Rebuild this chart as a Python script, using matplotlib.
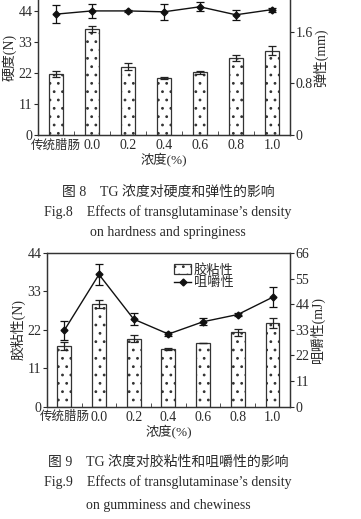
import numpy as np
import matplotlib
matplotlib.use("Agg")
import matplotlib.pyplot as plt
from matplotlib.patches import Patch
from matplotlib.lines import Line2D

plt.rcParams['font.family'] = ['Liberation Serif', 'Noto Sans CJK SC']
plt.rcParams['hatch.color'] = '#9a9a9a'
plt.rcParams['hatch.linewidth'] = 0.8

# 数据
categories = ['传统腊肠', '0.0', '0.2', '0.4', '0.6', '0.8', '1.0']

hardness = [21.6, 37.6, 24.2, 20.1, 22.2, 27.3, 29.9]
hardness_err = [1.0, 1.0, 1.2, 0.3, 0.6, 1.2, 1.5]
springiness = [1.87, 1.92, 1.92, 1.906, 1.984, 1.86, 1.94]
springiness_err = [0.143, 0.11, 0.01, 0.12, 0.067, 0.075, 0.03]

gumminess = [17.4, 29.5, 19.5, 16.5, 18.2, 21.3, 24.0]
gumminess_err = [1.2, 1.1, 1.1, 0.3, 0.1, 1.0, 1.4]
chewiness = [32.8, 56.8, 37.6, 31.2, 36.5, 39.6, 47.0]
chewiness_err = [4.0, 4.6, 2.6, 1.0, 1.5, 0.5, 4.3]

TXT = '#2a2a2a'


def draw_panel(fig, rect, bars, bars_err, line, line_err, yl, ylmax, yr, yrmax, ylab, yrlab):
    x = np.arange(len(categories))
    ax = fig.add_axes(rect)
    ax.bar(x, bars, width=0.4, color='white', edgecolor='#333333',
           linewidth=0.9, hatch='..', zorder=2)
    ax.errorbar(x, bars, yerr=bars_err, fmt='none', ecolor='#222222',
                elinewidth=0.9, capsize=3, capthick=0.9, zorder=3)
    ax.set_xlim(-0.5, len(categories) - 0.5)
    ax.set_ylim(0, ylmax)
    ax.set_yticks(yl)
    ax.set_xticks(x)
    ax.set_xticklabels(categories)
    ax.set_xticks(x[:-1] + 0.5, minor=True)
    ax.tick_params(axis='x', which='major', length=0, pad=3, labelsize=10, colors=TXT)
    ax.get_xticklabels()[0].set_fontsize(9)
    ax.tick_params(axis='x', which='minor', direction='in', length=3, color='#333333')
    ax.tick_params(axis='y', direction='out', length=3, labelsize=10, colors=TXT, pad=1)
    ax.set_ylabel(ylab, fontsize=10, color=TXT, labelpad=1)
    ax.set_xlabel('浓度(%)', fontsize=9.5, color=TXT, labelpad=1)
    for s in ax.spines.values():
        s.set_color('#333333')
        s.set_linewidth(0.9)

    ax2 = ax.twinx()
    ax2.errorbar(x, line, yerr=line_err, color='#111111', marker='D',
                 markersize=3.5, linewidth=1.0, elinewidth=0.9, capsize=3,
                 capthick=0.9, zorder=4)
    ax2.set_ylim(0, yrmax)
    ax2.set_yticks(yr)
    ax2.tick_params(axis='y', direction='out', length=3, labelsize=10, colors=TXT, pad=1)
    ax2.set_ylabel(yrlab, fontsize=10, color=TXT, labelpad=0)
    for s in ax2.spines.values():
        s.set_color('#333333')
        s.set_linewidth(0.9)
    return ax, ax2


fig = plt.figure(figsize=(3.61, 5.19), dpi=100)

# 图8 (上边被裁掉)
ax1, ax1r = draw_panel(fig, [0.105, 0.740, 0.698, 0.2987],
                       hardness, hardness_err, springiness, springiness_err,
                       [0, 11, 22, 33, 44], 55, [0, 0.8, 1.6], 2.4,
                       '硬度(N)', '弹性(mm)')
ax1r.set_yticklabels(['0', '0.8', '1.6'])

# 图9
ax2, ax2r = draw_panel(fig, [0.130, 0.2164, 0.673, 0.296],
                       gumminess, gumminess_err, chewiness, chewiness_err,
                       [0, 11, 22, 33, 44], 44, [0, 11, 22, 33, 44, 55, 66], 66,
                       '胶粘性(N)', '咀嚼性(mJ)')

handles = [Patch(facecolor='white', edgecolor='#333333', hatch='..', linewidth=0.9),
           Line2D([], [], color='#111111', marker='D', markersize=3.5, linewidth=1.0)]
fig.legend(handles, ['胶粘性', '咀嚼性'], loc='upper left',
           bbox_to_anchor=(0.46, 0.507), frameon=False, fontsize=9.5,
           handlelength=1.3, handletextpad=0.2, labelspacing=0.0,
           borderpad=0.1, labelcolor=TXT)

# 图题
cap = dict(ha='center', va='center', color=TXT, fontsize=10)
fig.text(0.465, 1 - 192 / 519, '图 8    TG 浓度对硬度和弹性的影响', **cap)
fig.text(0.465, 1 - 212 / 519, "Fig.8    Effects of transglutaminase’s density", **cap)
fig.text(0.465, 1 - 232 / 519, 'on hardness and springiness', **cap)
fig.text(0.465, 1 - 462 / 519, '图 9    TG 浓度对胶粘性和咀嚼性的影响', **cap)
fig.text(0.465, 1 - 482 / 519, "Fig.9    Effects of transglutaminase’s density", **cap)
fig.text(0.465, 1 - 505 / 519, 'on gumminess and chewiness', **cap)

fig.savefig('out.png', dpi=100)
